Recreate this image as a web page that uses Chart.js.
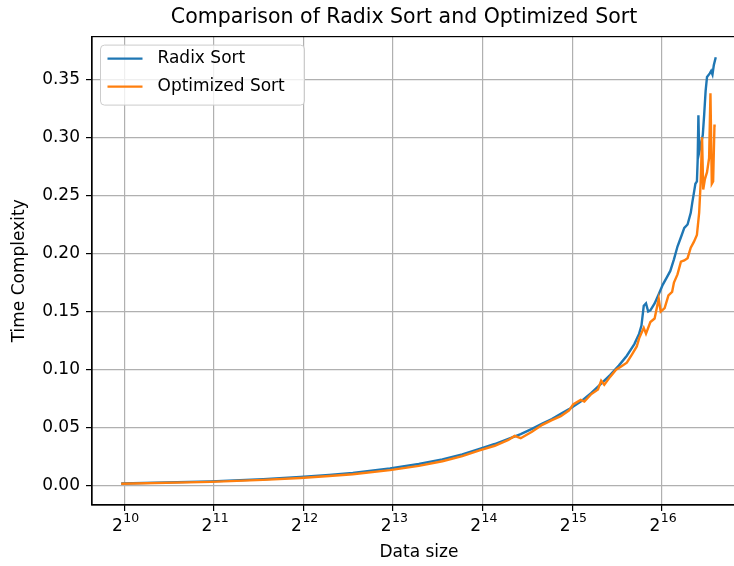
<!DOCTYPE html>
<html>
<head>
<meta charset="utf-8">
<script src="https://cdn.jsdelivr.net/npm/chart.js@4"></script>
<style>
  html, body { margin: 0; padding: 0; overflow: hidden; background: #fff; }
  canvas { display: block; }
</style>
</head>
<body>
<canvas id="sortChart" width="808" height="566"></canvas>
<script>
// values
const radixSizes = [1000, 2000, 3000, 4000, 5000, 6000, 8000, 10000, 12000, 14000, 16000, 18000, 20000, 22000, 24000, 26000, 28000, 30000, 32000,
  35000, 38000, 41000, 44000, 47000, 50000, 53000, 55000, 56000, 57000, 58000, 59000, 60000, 62000, 64000, 66000, 68000, 70000, 72000, 74000,
  76000, 78000, 80000, 82000, 83000, 84000, 85000, 86000, 86500, 87000, 87500, 89000, 90000, 91000, 92000, 93000, 95000, 96000, 97000, 98000, 99500];
const radixTimes = [0.0020, 0.0038, 0.0057, 0.0076, 0.0094, 0.0112, 0.0150, 0.0188, 0.0228, 0.0270, 0.0318, 0.0360, 0.0405, 0.0445, 0.0490, 0.0535, 0.0575, 0.0620, 0.0660,
  0.0725, 0.0800, 0.0880, 0.0955, 0.1035, 0.1120, 0.1220, 0.1310, 0.1380, 0.1550, 0.1570, 0.1500, 0.1510, 0.1570, 0.1650, 0.1730, 0.1790, 0.1850, 0.1950, 0.2060,
  0.2140, 0.2220, 0.2250, 0.2350, 0.2440, 0.2520, 0.2600, 0.2620, 0.2800, 0.3190, 0.2870, 0.2960, 0.3020, 0.3200, 0.3400, 0.3520, 0.3550, 0.3570, 0.3540, 0.3620, 0.3690];

const optSizes = [1000, 2000, 3000, 4000, 5000, 6000, 8000, 10000, 12000, 14000, 16000, 18000, 20000, 21000, 22000, 24000, 26000, 28000, 30000, 32000, 33000,
  35000, 36000, 38000, 40000, 41000, 42000, 44000, 46000, 48000, 50000, 52000, 54000, 55000, 57000, 58000, 60000, 62000, 64000, 65000, 67000, 69000,
  71000, 72000, 74000, 76000, 78000, 80000, 82000, 84000, 86000, 87500, 88500, 89500, 90300, 91500, 93000, 94500, 95500, 96500, 97500, 98500, 99500];
const optTimes = [0.0018, 0.0034, 0.0051, 0.0068, 0.0085, 0.0100, 0.0135, 0.0172, 0.0212, 0.0255, 0.0305, 0.0345, 0.0395, 0.0430, 0.0410, 0.0465, 0.0525, 0.0565, 0.0600, 0.0650, 0.0700,
  0.0740, 0.0725, 0.0790, 0.0830, 0.0905, 0.0870, 0.0940, 0.1000, 0.1030, 0.1060, 0.1130, 0.1200, 0.1270, 0.1360, 0.1310, 0.1410, 0.1440, 0.1610, 0.1500, 0.1530, 0.1640,
  0.1670, 0.1750, 0.1820, 0.1930, 0.1940, 0.1960, 0.2050, 0.2100, 0.2160, 0.2350, 0.2600, 0.3000, 0.2550, 0.2640, 0.2700, 0.2820, 0.3380, 0.2600, 0.2620, 0.3100, 0.3100];

const xExponents = [10, 11, 12, 13, 14, 15, 16];
const yTickValues = [0, 0.05, 0.10, 0.15, 0.20, 0.25, 0.30, 0.35];

const BLUE = '#1f77b4';
const ORANGE = '#ff7f0e';
const GRID = '#b0b0b0';
const FONT = 'DejaVu Sans';

Chart.defaults.font.family = FONT;
Chart.defaults.color = '#000';

function toPoints(xs, ys) {
  return xs.map((x, i) => ({ x: x, y: ys[i] }));
}

// frame, 2^n tick labels (mathtext look) and the legend box inside the axes
const framePlugin = {
  id: 'frameAndLegend',
  afterDraw(chart) {
    const { ctx, chartArea } = chart;
    ctx.save();
    ctx.strokeStyle = '#000';
    ctx.lineWidth = 1.2;
    ctx.strokeRect(chartArea.left, chartArea.top, chartArea.right - chartArea.left, chartArea.bottom - chartArea.top);

    // x tick labels: base 2 with raised exponent
    const xs = chart.scales.x;
    ctx.fillStyle = '#000';
    ctx.textBaseline = 'alphabetic';
    ctx.textAlign = 'left';
    xExponents.forEach(e => {
      const px = xs.getPixelForValue(Math.pow(2, e));
      const exp = String(e);
      ctx.font = '17px "' + FONT + '"';
      const wBase = ctx.measureText('2').width;
      ctx.font = '12.5px "' + FONT + '"';
      const wExp = ctx.measureText(exp).width;
      const left = px - (wBase + wExp) / 2 + 1;
      ctx.font = '17px "' + FONT + '"';
      ctx.fillText('2', left, chartArea.bottom + 26);
      ctx.font = '12.5px "' + FONT + '"';
      ctx.fillText(exp, left + wBase + 0.5, chartArea.bottom + 17);
    });

    const bx = chartArea.left + 8.5, by = chartArea.top + 8.5, bw = 204, bh = 60;
    ctx.beginPath();
    ctx.roundRect(bx, by, bw, bh, 4);
    ctx.fillStyle = 'rgba(255,255,255,0.8)';
    ctx.fill();
    ctx.strokeStyle = '#cccccc';
    ctx.lineWidth = 1;
    ctx.stroke();

    const entries = [['Radix Sort', BLUE], ['Optimized Sort', ORANGE]];
    ctx.font = '17px "' + FONT + '"';
    ctx.textBaseline = 'middle';
    ctx.textAlign = 'left';
    entries.forEach(([label, color], i) => {
      const y = by + 13.5 + i * 28;
      ctx.beginPath();
      ctx.moveTo(bx + 7, y);
      ctx.lineTo(bx + 42, y);
      ctx.strokeStyle = color;
      ctx.lineWidth = 2.4;
      ctx.stroke();
      ctx.fillStyle = '#000';
      ctx.fillText(label, bx + 57, y);
    });
    ctx.restore();
  }
};

const ctx = document.getElementById('sortChart').getContext('2d');
new Chart(ctx, {
  type: 'line',
  data: {
    datasets: [
      {
        label: 'Radix Sort',
        data: toPoints(radixSizes, radixTimes),
        borderColor: BLUE,
        borderWidth: 2.4,
        pointRadius: 0,
        tension: 0,
        order: 1
      },
      {
        label: 'Optimized Sort',
        data: toPoints(optSizes, optTimes),
        borderColor: ORANGE,
        borderWidth: 2.4,
        pointRadius: 0,
        tension: 0,
        order: 0
      }
    ]
  },
  options: {
    responsive: false,
    animation: false,
    devicePixelRatio: 1,
    layout: { padding: 0 },
    plugins: {
      legend: { display: false },
      tooltip: { enabled: false },
      title: {
        display: true,
        text: 'Comparison of Radix Sort and Optimized Sort',
        color: '#000',
        font: { size: 20.5, weight: 'normal' },
        padding: { top: 5, bottom: 7 }
      }
    },
    scales: {
      x: {
        type: 'logarithmic',
        min: Math.pow(2, 9.64),
        max: Math.pow(2, 16.94),
        bounds: 'data',
        afterBuildTicks: s => { s.ticks = xExponents.map(e => ({ value: Math.pow(2, e) })); },
        afterFit: s => { s.height = 61; },
        ticks: {
          autoSkip: false,
          maxRotation: 0,
          padding: 5,
          font: { size: 17 },
          callback: () => ''
        },
        grid: { color: GRID, lineWidth: 1.2, tickColor: '#000', tickLength: 6 },
        border: { color: '#000', width: 1.2 },
        title: { display: true, text: 'Data size', color: '#000', font: { size: 17 }, padding: { top: 0, bottom: 3 } }
      },
      y: {
        type: 'linear',
        min: -0.0165,
        max: 0.3867,
        bounds: 'data',
        afterBuildTicks: s => { s.ticks = yTickValues.map(v => ({ value: v })); },
        afterFit: s => { s.width = 92; },
        ticks: {
          padding: 6,
          color: '#000',
          font: { size: 17 },
          callback: v => v.toFixed(2)
        },
        grid: { color: GRID, lineWidth: 1.2, tickColor: '#000', tickLength: 6 },
        border: { color: '#000', width: 1.2 },
        title: { display: true, text: 'Time Complexity', color: '#000', font: { size: 17 }, padding: { top: 9, bottom: 0 } }
      },
      yRight: {
        type: 'linear',
        position: 'right',
        display: true,
        grid: { display: false },
        ticks: { display: false },
        border: { display: false },
        afterFit: s => { s.width = 62; }
      }
    }
  },
  plugins: [framePlugin]
});
</script>
</body>
</html>
